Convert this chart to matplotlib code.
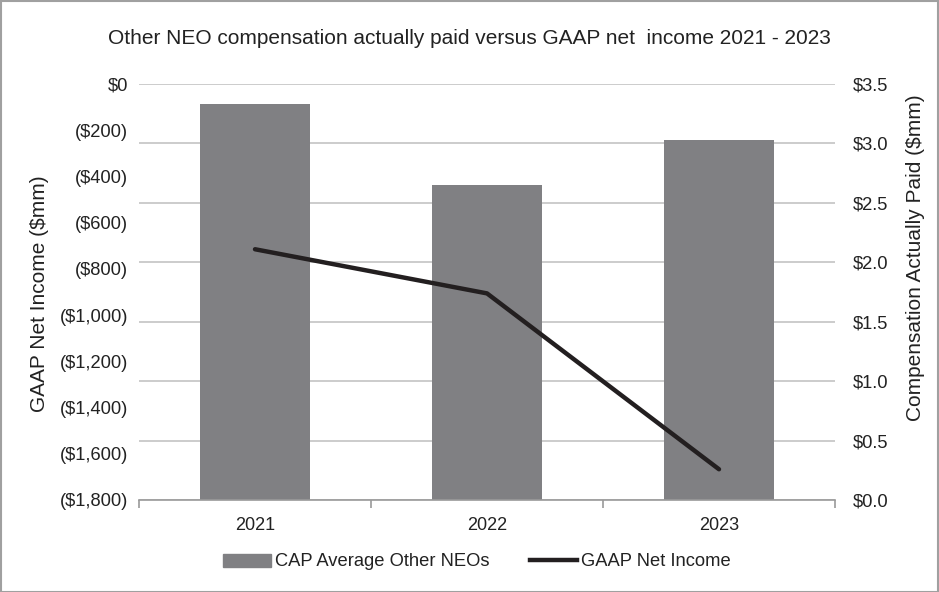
import matplotlib
matplotlib.use("Agg")
import matplotlib.pyplot as plt
from matplotlib.patches import Rectangle
from matplotlib.lines import Line2D
import numpy as np

plt.rcParams['font.family'] = ['Liberation Sans', 'DejaVu Sans']

years = ["2021", "2022", "2023"]
cap_avg = [3.33, 2.65, 3.03]            # $mm, right axis
gaap_net_income = [-715, -906, -1667]   # $mm, left axis
left_ticks = [0, -200, -400, -600, -800, -1000, -1200, -1400, -1600, -1800]
left_labels = ["$0", "($200)", "($400)", "($600)", "($800)", "($1,000)",
               "($1,200)", "($1,400)", "($1,600)", "($1,800)"]
right_ticks = [0.0, 0.5, 1.0, 1.5, 2.0, 2.5, 3.0, 3.5]
right_labels = ["$0.0", "$0.5", "$1.0", "$1.5", "$2.0", "$2.5", "$3.0", "$3.5"]

W, H = 939, 592
fig = plt.figure(figsize=(W/100, H/100), dpi=100)
ax1 = fig.add_axes([139/W, 1-500/H, (835-139)/W, (500-84)/H])
ax2 = ax1.twinx()

x = np.arange(len(years))
bar_color = "#808083"
line_color = "#231f20"
grid_color = "#c4c4c4"
text_color = "#222222"

# bars on ax1 (right scale)
ax1.bar(x, cap_avg, width=0.47, color=bar_color, zorder=2)
ax1.set_ylim(0, 3.5)
ax1.set_xlim(-0.5, 2.5)
ax1.set_yticks(right_ticks)
ax1.set_yticklabels(right_labels, fontsize=13.2)
ax1.yaxis.tick_right()
ax1.yaxis.set_label_position("right")
ax1.tick_params(axis='y', length=0, pad=13, colors=text_color)
ax1.grid(axis='y', color=grid_color, linewidth=1.2, zorder=0)
ax1.set_axisbelow(True)
ax1.set_ylabel("Compensation Actually Paid ($mm)", fontsize=15, color=text_color)
ax1.yaxis.set_label_coords((906-139)/696, (500-258)/416)

ax1.set_xticks(x)
ax1.set_xticklabels(years, fontsize=13, color=text_color)
ax1.set_xticks([-0.5, 0.5, 1.5, 2.5], minor=True)
ax1.tick_params(axis='x', which='major', length=0, pad=12)
ax1.tick_params(axis='x', which='minor', length=6, color="#9a9a9a", width=1.2)

for s in ["top", "left", "right"]:
    ax1.spines[s].set_visible(False)
    ax2.spines[s].set_visible(False)
ax1.spines["bottom"].set_color("#9a9a9a")
ax1.spines["bottom"].set_linewidth(1.2)
ax2.spines["bottom"].set_visible(False)

# line on ax2 (left scale)
ax2.plot(x, gaap_net_income, color=line_color, linewidth=3.2, solid_capstyle='round', zorder=3)
ax2.set_ylim(-1800, 0)
ax2.set_yticks(left_ticks)
ax2.set_yticklabels(left_labels, fontsize=13.2)
ax2.yaxis.tick_left()
ax2.yaxis.set_label_position("left")
ax2.tick_params(axis='y', length=0, pad=8, colors=text_color)
ax2.set_ylabel("GAAP Net Income ($mm)", fontsize=15, color=text_color)
ax2.yaxis.set_label_coords((49-139)/696, (500-293.5)/416)

fig.text(0.5, 1-38/H, "Other NEO compensation actually paid versus GAAP net  income 2021 - 2023",
         ha='center', va='center', fontsize=15, color=text_color)

handles = [Rectangle((0, 0), 1, 1, color=bar_color),
           Line2D([0], [0], color=line_color, linewidth=3.2)]
fig.legend(handles, ["CAP Average Other NEOs", "GAAP Net Income"],
           loc='center', bbox_to_anchor=(477/W, 1-562/H), ncol=2, frameon=False,
           fontsize=13.2, handlelength=2.6, handletextpad=0.2, columnspacing=2.2,
           labelcolor=text_color)

fig.patches.append(Rectangle((0.5/W, 0.5/H), 1-1.5/W, 1-1.5/H, transform=fig.transFigure,
                             fill=False, edgecolor="#a0a0a0", linewidth=1.5))

fig.savefig("out.png", dpi=100, facecolor="white")
